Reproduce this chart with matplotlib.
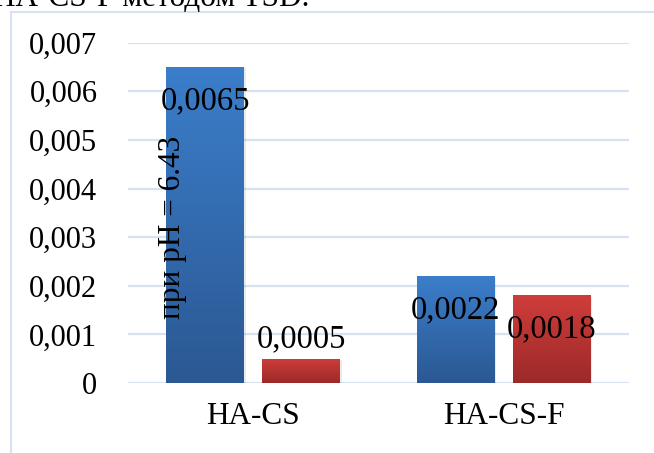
import numpy as np
import matplotlib
matplotlib.use("Agg")
import matplotlib.pyplot as plt
from matplotlib.patches import Rectangle
from matplotlib.lines import Line2D

plt.rcParams['font.family'] = ['Liberation Serif', 'DejaVu Serif']

categories = ["HA-CS", "HA-CS-F"]
series_a = [0.0065, 0.0022]
series_b = [0.0005, 0.0018]
labels_a = ["0,0065", "0,0022"]
labels_b = ["0,0005", "0,0018"]
yticks = [0, 0.001, 0.002, 0.003, 0.004, 0.005, 0.006, 0.007]
ytick_labels = ["0", "0,001", "0,002", "0,003", "0,004", "0,005", "0,006", "0,007"]
note = "при pH = 6.43"
caption = "HA-CS-F методом TSD."

FS_TICK = 22
FS_CAT = 22.5
FS_VAL = 23.5
FS_NOTE = 22.5
grid_color = "#D5E2F2"

fig = plt.figure(figsize=(6.54, 4.53), dpi=100)
ax = fig.add_axes([128 / 654, 1 - 383 / 453, 501 / 654, (383 - 42.7) / 453])

x = np.arange(len(categories))
width = 0.311
offset = 0.192


def gradient_bars(bars, top_color, bottom_color):
    top = np.array(matplotlib.colors.to_rgb(top_color))
    bot = np.array(matplotlib.colors.to_rgb(bottom_color))
    t = np.linspace(0, 1, 256)[:, None]
    grad = (top * (1 - t) + bot * t)[:, None, :]
    for b in bars:
        x0, y0 = b.get_x(), b.get_y()
        w, h = b.get_width(), b.get_height()
        # soft shadow on the right/bottom
        shadow = Rectangle((x0 + 0.006, y0 - 0.00003), w, h, facecolor="#000000",
                           alpha=0.08, edgecolor="none", zorder=2)
        ax.add_patch(shadow)
        im = ax.imshow(grad, extent=[x0, x0 + w, y0, y0 + h], aspect="auto",
                       origin="upper", zorder=3, interpolation="bilinear")
        im.set_clip_path(b)
        b.set_facecolor("none")


bars_a = ax.bar(x - offset, series_a, width, zorder=3, edgecolor="none")
bars_b = ax.bar(x + offset, series_b, width, zorder=3, edgecolor="none")
gradient_bars(bars_a, "#3B7ECA", "#2B5893")
gradient_bars(bars_b, "#CF3D3A", "#9C2A29")

ax.set_xlim(-0.5, 1.5)
ax.set_ylim(0, 0.007)

for yv in yticks:
    ax.axhline(yv, color=grid_color, lw=1.6, zorder=1)

ax.set_yticks(yticks)
ax.set_yticklabels(ytick_labels, fontsize=FS_TICK)
ax.set_xticks(x)
ax.set_xticklabels(categories, fontsize=FS_CAT)
ax.tick_params(axis="y", length=0, pad=22)
ax.tick_params(axis="x", length=0, pad=14)
for s in ax.spines.values():
    s.set_visible(False)

# value labels
px = 0.007 / (383 - 42.7)
for xi, v, lab in zip(x - offset, series_a, labels_a):
    ax.text(xi, v - 34 * px, lab, ha="center", va="center", fontsize=FS_VAL, zorder=5)
for xi, v, lab in zip(x + offset, series_b, labels_b):
    if v < 0.001:
        ax.text(xi, v + 20 * px, lab, ha="center", va="center", fontsize=FS_VAL, zorder=5)
    else:
        ax.text(xi, v - 34 * px, lab, ha="center", va="center", fontsize=FS_VAL, zorder=5)

ax.text(x[0] - offset - 0.13, 0.0032, note, rotation=90, ha="center", va="center",
        fontsize=FS_NOTE, zorder=5)

# outer chart frame
fig.add_artist(Line2D([10.5 / 654, 10.5 / 654], [0, 1 - 12 / 453], color="#D6E2F1",
                      lw=1.5, transform=fig.transFigure))
fig.add_artist(Line2D([10.5 / 654, 1], [1 - 12 / 453, 1 - 12 / 453], color="#D6E2F1",
                      lw=1.5, transform=fig.transFigure))

fig.text(-0.01, 1 - 6 / 453, caption, fontsize=FS_CAT, ha="left", va="baseline")

fig.savefig("out.png", dpi=100)
